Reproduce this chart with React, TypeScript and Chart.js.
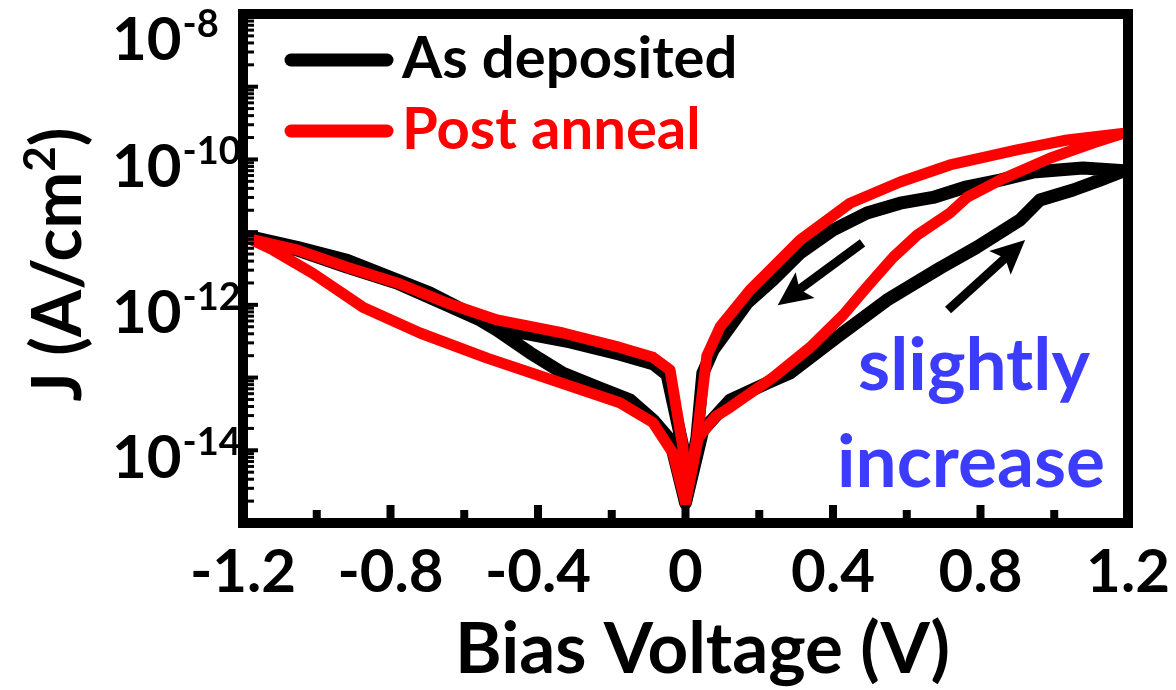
import React, { useEffect, useRef } from 'react';
import { Chart, registerables } from 'chart.js';

Chart.register(...registerables);

// ---------- data ----------
const xTickValues = [-1.2, -0.8, -0.4, 0, 0.4, 0.8, 1.2];
const xTickLabels = ['-1.2', '-0.8', '-0.4', '0', '0.4', '0.8', '1.2'];
const xMinorValues = [-1.0, -0.6, -0.2, 0.2, 0.6, 1.0];
const yLabelExponents = [-8, -10, -12, -14];
const seriesNames = ['As deposited', 'Post anneal'];

// As deposited: 0 -> +1.2 -> 0 -> -1.2 -> 0 (path order)
const asDepositedV = [
  0, 0.047, 0.121, 0.221, 0.283, 0.411, 0.546, 0.69, 0.79, 0.907, 0.961, 1.051, 1.124, 1.19,
  1.078, 0.942, 0.853, 0.763, 0.671, 0.582, 0.492, 0.4, 0.311, 0.237, 0.167, 0.075, 0.047, 0.031, 0,
  -0.007, -0.05, -0.088, -0.178, -0.313, -0.449, -0.538, -0.647, -0.782, -0.918, -1.054, -1.18,
  -1.054, -0.918, -0.782, -0.693, -0.603, -0.511, -0.422, -0.332, -0.24, -0.15, -0.088, -0.042, 0,
];
const asDepositedJ = [
  1.9e-15, 1.9e-14, 4.9e-14, 8.4e-14, 1.15e-13, 3.6e-13, 1.16e-12, 3.2e-12, 6.2e-12, 1.47e-11, 2.77e-11, 3.8e-11, 5.2e-11, 7.0e-11,
  7.6e-11, 6.7e-11, 5.2e-11, 4.2e-11, 3.0e-11, 2.5e-11, 1.83e-11, 1.07e-11, 5.2e-12, 2.2e-12, 1.06e-12, 2.4e-13, 1.15e-13, 1.5e-14, 1.9e-15,
  1.1e-14, 1.1e-13, 1.55e-13, 2.1e-13, 3.1e-13, 4.2e-13, 5.6e-13, 9.9e-13, 2.0e-12, 3.3e-12, 5.7e-12, 8.6e-12,
  6.2e-12, 4.1e-12, 2.2e-12, 1.45e-12, 8.5e-13, 4.5e-13, 2.2e-13, 1.15e-13, 7.4e-14, 4.9e-14, 2.6e-14, 1.4e-14, 1.9e-15,
];

// Post anneal: 0 -> +1.2 -> 0 -> -1.2 -> 0 (path order)
const postAnnealV = [
  0, 0.035, 0.081, 0.121, 0.237, 0.338, 0.427, 0.492, 0.527, 0.563, 0.628, 0.717, 0.763, 0.853, 0.988, 1.105, 1.19,
  1.035, 0.899, 0.717, 0.582, 0.446, 0.311, 0.21, 0.175, 0.094, 0.058, 0.031, 0,
  -0.007, -0.042, -0.088, -0.178, -0.332, -0.511, -0.647, -0.782, -0.918, -1.054, -1.18,
  -1.119, -1.01, -0.875, -0.72, -0.538, -0.359, -0.178, -0.088, -0.034, 0,
];
const postAnnealJ = [
  1.9e-15, 1.5e-14, 2.9e-14, 3.9e-14, 1.0e-13, 2.6e-13, 7.2e-13, 1.76e-12, 2.8e-12, 4.5e-12, 9.1e-12, 1.83e-11, 3.0e-11, 5.2e-11, 1.04e-10, 1.68e-10, 2.3e-10,
  1.85e-10, 1.35e-10, 8.4e-11, 4.9e-11, 2.5e-11, 7.8e-12, 2.4e-12, 1.6e-12, 5.0e-13, 2.0e-13, 1.5e-14, 1.9e-15,
  1.1e-14, 1.27e-13, 1.9e-13, 2.6e-13, 4.1e-13, 6.2e-13, 1.06e-12, 2.0e-12, 3.3e-12, 5.7e-12, 8.0e-12,
  5.7e-12, 2.7e-12, 9.3e-13, 4.1e-13, 1.85e-13, 9.2e-14, 4.5e-14, 2.4e-14, 9.1e-15, 1.9e-15,
];

// annotation anchors in data units [V, J]
const arrowDownFrom = [0.48, 7.1e-12];
const arrowDownTo = [0.25, 9.9e-13];
const arrowUpFrom = [0.712, 8.5e-13];
const arrowUpTo = [0.921, 7.8e-12];
const noteLines = ['slightly', 'increase'];

const FONT = 'Lato, "Open Sans", "DejaVu Sans", sans-serif';
const BLUE = '#3c3cff';

function toPoints(v: number[], j: number[]) {
  return v.map((x, i) => ({ x, y: j[i] }));
}

function drawArrow(ctx: CanvasRenderingContext2D, x0: number, y0: number, x1: number, y1: number) {
  const ang = Math.atan2(y1 - y0, x1 - x0);
  const c = Math.cos(ang), s = Math.sin(ang);
  const headLen = 34, half = 16;
  const bx = x1 - headLen * c, by = y1 - headLen * s;
  ctx.lineWidth = 9;
  ctx.lineCap = 'butt';
  ctx.beginPath();
  ctx.moveTo(x0, y0);
  ctx.lineTo(bx + 8 * c, by + 8 * s);
  ctx.stroke();
  ctx.beginPath();
  ctx.moveTo(x1, y1);
  ctx.lineTo(bx + half * s, by - half * c);
  ctx.lineTo(bx + 7 * c, by + 7 * s);
  ctx.lineTo(bx - half * s, by + half * c);
  ctx.closePath();
  ctx.fill();
}

const decorPlugin = {
  id: 'decor',
  afterDatasetsDraw(chart: any) {
    const { ctx, chartArea: a, scales } = chart;
    const xs = scales.x, ys = scales.y;
    ctx.save();
    ctx.fillStyle = '#000';
    ctx.strokeStyle = '#000';

    // frame
    ctx.lineWidth = 10;
    ctx.lineJoin = 'miter';
    ctx.strokeRect(a.left, a.top, a.right - a.left, a.bottom - a.top);

    // x ticks (inward)
    for (const v of xTickValues) {
      const px = xs.getPixelForValue(v);
      ctx.fillRect(px - 4, a.bottom - 5 - 13, 8, 13);
    }
    for (const v of xMinorValues) {
      const px = xs.getPixelForValue(v);
      ctx.fillRect(px - 4, a.bottom - 5 - 8, 8, 8);
    }
    // y ticks (inward)
    for (let e = -15; e < -8; e++) {
      const base = Math.pow(10, e);
      const py = ys.getPixelForValue(base);
      ctx.fillRect(a.left + 5, py - 2, 10, 4);
      for (let m = 2; m <= 9; m++) {
        const pm = ys.getPixelForValue(m * base);
        ctx.fillRect(a.left + 5, pm - 1.5, 6, 3);
      }
    }

    // x tick labels
    ctx.font = `bold 60px ${FONT}`;
    ctx.textAlign = 'center';
    ctx.textBaseline = 'alphabetic';
    xTickValues.forEach((v, i) => {
      ctx.fillText(xTickLabels[i], xs.getPixelForValue(v), a.bottom + 69);
    });

    // y tick labels 10^n
    ctx.textAlign = 'left';
    for (const e of yLabelExponents) {
      const py = ys.getPixelForValue(Math.pow(10, e));
      const baseLine = Math.max(py + 28, a.top + 46);
      ctx.font = `bold 60px ${FONT}`;
      ctx.fillText('10', a.left - 131, baseLine);
      const w = ctx.measureText('10').width;
      ctx.font = `bold 38px ${FONT}`;
      ctx.fillText(String(e), a.left - 131 + w + 1, baseLine - 23);
    }

    // x title
    ctx.font = `bold 71px ${FONT}`;
    ctx.textAlign = 'center';
    ctx.fillText('Bias Voltage (V)', (a.left + a.right) / 2 + 17, a.bottom + 150);

    // y title (rotated) J (A/cm²)
    ctx.save();
    ctx.translate(a.left - 162, (a.top + a.bottom) / 2 - 4);
    ctx.rotate(-Math.PI / 2);
    const big = `bold 68px ${FONT}`;
    const small = `bold 44px ${FONT}`;
    ctx.font = big;
    const p1 = 'J (A/cm';
    const p3 = ')';
    const w1 = ctx.measureText(p1).width;
    const w3 = ctx.measureText(p3).width;
    ctx.font = small;
    const w2 = ctx.measureText('2').width;
    const total = w1 + w2 + w3;
    let cx = -total / 2;
    ctx.textAlign = 'left';
    ctx.font = big;
    ctx.fillText(p1, cx, 0);
    cx += w1;
    ctx.font = small;
    ctx.fillText('2', cx, -26);
    cx += w2;
    ctx.font = big;
    ctx.fillText(p3, cx, 0);
    ctx.restore();

    // legend
    const legendColors = ['#000000', '#ff0000'];
    const legendY = [a.top + 46, a.top + 117];
    legendColors.forEach((col, i) => {
      ctx.strokeStyle = col;
      ctx.lineWidth = 13;
      ctx.lineCap = 'round';
      ctx.beginPath();
      ctx.moveTo(a.left + 48, legendY[i]);
      ctx.lineTo(a.left + 144, legendY[i]);
      ctx.stroke();
      ctx.fillStyle = col;
      ctx.font = `bold 58px ${FONT}`;
      ctx.textAlign = 'left';
      ctx.fillText(seriesNames[i], a.left + 159, legendY[i] + 18);
    });

    // arrows
    ctx.fillStyle = '#000';
    ctx.strokeStyle = '#000';
    drawArrow(ctx, xs.getPixelForValue(arrowDownFrom[0]), ys.getPixelForValue(arrowDownFrom[1]),
      xs.getPixelForValue(arrowDownTo[0]), ys.getPixelForValue(arrowDownTo[1]));
    drawArrow(ctx, xs.getPixelForValue(arrowUpFrom[0]), ys.getPixelForValue(arrowUpFrom[1]),
      xs.getPixelForValue(arrowUpTo[0]), ys.getPixelForValue(arrowUpTo[1]));

    // note text
    ctx.fillStyle = BLUE;
    ctx.font = `bold 73px ${FONT}`;
    ctx.textAlign = 'center';
    ctx.fillText(noteLines[0], a.right - 154, a.top + 376);
    ctx.fillText(noteLines[1], a.right - 157, a.top + 473);

    ctx.restore();
  },
};

export default function App() {
  const ref = useRef<HTMLCanvasElement | null>(null);
  useEffect(() => {
    if (!ref.current) return;
    const chart = new Chart(ref.current, {
      type: 'scatter',
      data: {
        datasets: [
          {
            label: seriesNames[0],
            data: toPoints(asDepositedV, asDepositedJ),
            showLine: true,
            borderColor: '#000000',
            backgroundColor: '#000000',
            borderWidth: 13,
            pointRadius: 0,
            pointHoverRadius: 0,
            borderJoinStyle: 'round',
            borderCapStyle: 'round',
            tension: 0,
            order: 2,
          } as any,
          {
            label: seriesNames[1],
            data: toPoints(postAnnealV, postAnnealJ),
            showLine: true,
            borderColor: '#ff0000',
            backgroundColor: '#ff0000',
            borderWidth: 11,
            pointRadius: 0,
            pointHoverRadius: 0,
            borderJoinStyle: 'round',
            borderCapStyle: 'round',
            tension: 0,
            order: 1,
          } as any,
        ],
      },
      options: {
        animation: false,
        responsive: false,
        devicePixelRatio: 1,
        events: [],
        layout: { padding: { left: 243, right: 48, top: 14, bottom: 167 } },
        plugins: { legend: { display: false }, tooltip: { enabled: false } },
        scales: {
          x: { type: 'linear', min: -1.2, max: 1.2, display: false },
          y: { type: 'logarithmic', min: 1e-15, max: 1e-8, display: false },
        },
      },
      plugins: [decorPlugin],
    });
    return () => chart.destroy();
  }, []);

  return (
    <div style={{ position: 'fixed', left: 0, top: 0, width: 1176, height: 690, background: '#fff' }}>
      <canvas ref={ref} width={1176} height={690} style={{ display: 'block' }} />
    </div>
  );
}
